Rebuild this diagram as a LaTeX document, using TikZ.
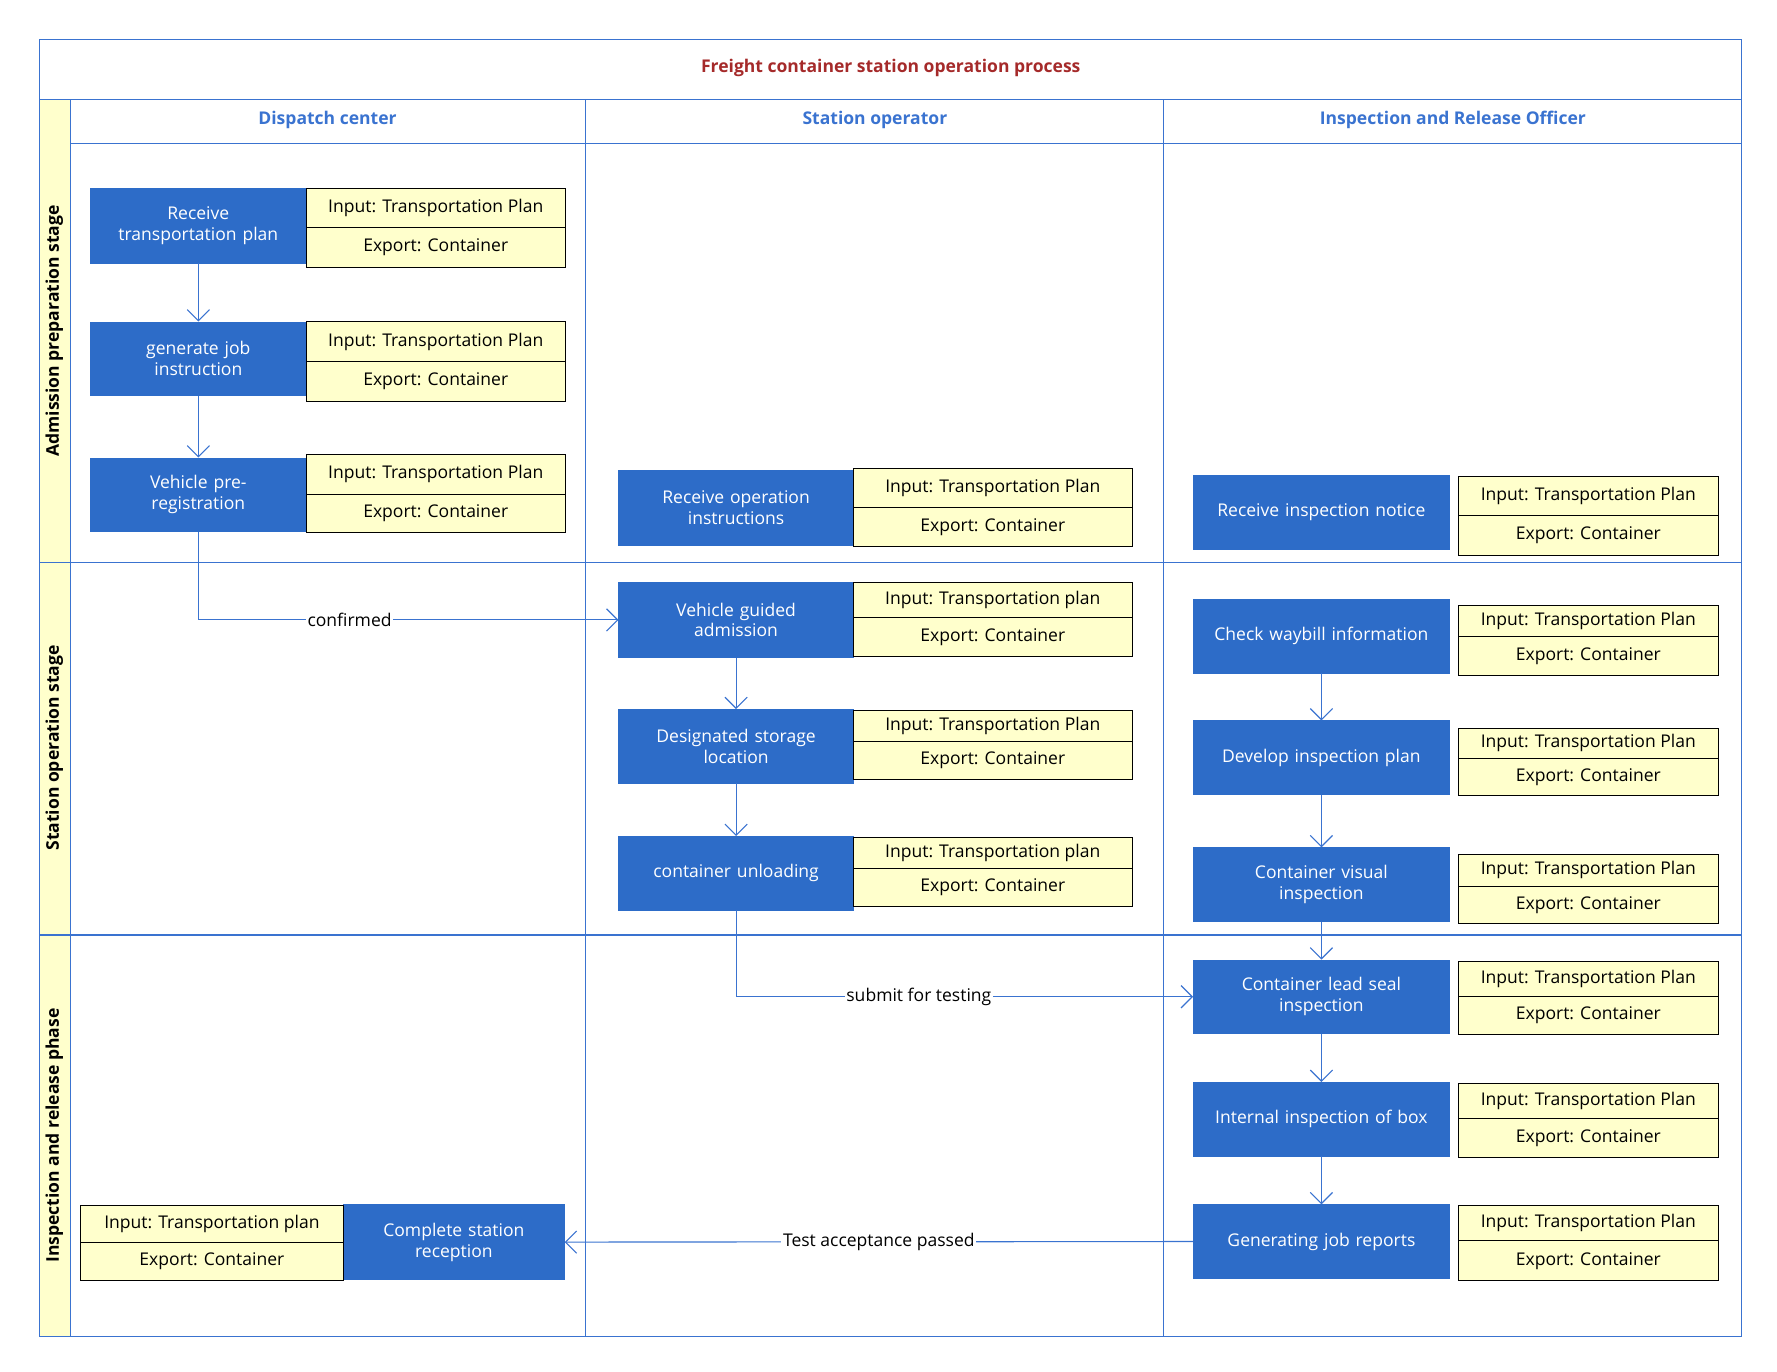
\documentclass[tikz,border=0pt]{standalone}
\usepackage{fontspec}
\setmainfont{Open Sans}
\usetikzlibrary{fit,arrows.meta}
\definecolor{stepblue}{HTML}{2D6CC8}
\definecolor{lineblue}{HTML}{3A73D0}
\definecolor{cellyellow}{HTML}{FFFFCC}
\definecolor{titlered}{HTML}{A52A2A}
\tikzset{
	procbox/.style={draw=stepblue, fill=stepblue, inner sep=0pt},
	proctext/.style={text=white, align=center, text width=5cm, font=\fontsize{11}{13}\selectfont},
	cell/.style={draw=black, fill=cellyellow, inner sep=0pt, line width=0.6pt},
	celltext/.style={font=\fontsize{11}{13}\selectfont},
	lane/.style={draw=lineblue, line width=0.7pt},
	flow/.style={draw=lineblue, line width=0.7pt, -{Straight Barb[length=7pt,width=14pt]}},
	flowlabel/.style={fill=white, inner sep=1pt, font=\fontsize{11}{13}\selectfont},
}
% blue process box: name, x1, y1, x2, y2, text
\newcommand\stepbox[6]{%
	\node[procbox, fit={(#2,#3) (#4,#5)}, label={[proctext]center:#6}] (#1) {};}
% input/export table: name, x1, y1, ymid, x2, y2, input text
\newcommand\iobox[7]{%
	\node[cell, fit={(#2,#3) (#5,#4)}, label={[celltext]center:#7}] (#1in) {};
	\node[cell, fit={(#2,#4) (#5,#6)}, label={[celltext]center:Export: Container}] (#1out) {};}
\begin{document}
\begin{tikzpicture}[x=0.025cm, y=-0.025cm]
	\useasboundingbox (0,0) rectangle (1568,1210);
	% swimlane frame
	\fill[cellyellow] (35.5,88.5) rectangle (61.5,1178.5);
	\draw[lane] (35,35) rectangle (1537,1179);
	\draw[lane] (35,88) -- (1537,88);
	\draw[lane] (62,127) -- (1537,127);
	\draw[lane] (62,88) -- (62,1179);
	\draw[lane] (517,88) -- (517,1179);
	\draw[lane] (1027,88) -- (1027,1179);
	\draw[lane] (35,496) -- (1537,496);
	\draw[lane] (35,825) -- (1537,825);
	\node[font=\bfseries\fontsize{11}{13}\selectfont, text=titlered] (title) at (786,60) {Freight container station operation process};
	\node[font=\bfseries\fontsize{11}{13}\selectfont, text=lineblue] (colA) at (289,106) {Dispatch center};
	\node[font=\bfseries\fontsize{11}{13}\selectfont, text=lineblue] (colB) at (772,106) {Station operator};
	\node[font=\bfseries\fontsize{11}{13}\selectfont, text=lineblue] (colC) at (1282,106) {Inspection and Release Officer};
	\node[font=\bfseries\fontsize{11}{13}\selectfont, rotate=90] (rowA) at (48,292) {Admission preparation stage};
	\node[font=\bfseries\fontsize{11}{13}\selectfont, rotate=90] (rowB) at (48,660) {Station operation stage};
	\node[font=\bfseries\fontsize{11}{13}\selectfont, rotate=90] (rowC) at (48,1002) {Inspection and release phase};

	% dispatch center
	\stepbox{recvplan}{80}{166}{270}{232}{Receive\\transportation plan}
	\iobox{recvplan}{270}{166}{201}{499}{236}{Input: Transportation Plan}
	\stepbox{genjob}{80}{284}{270}{349}{generate job\\instruction}
	\iobox{genjob}{270}{284}{319}{499}{354}{Input: Transportation Plan}
	\stepbox{prereg}{80}{404}{270}{469}{Vehicle pre-\\registration}
	\iobox{prereg}{270}{401}{436}{499}{470}{Input: Transportation Plan}
	\stepbox{complete}{303}{1063}{498}{1129}{Complete station\\reception}
	\iobox{complete}{71}{1064}{1096}{303}{1130}{Input: Transportation plan}

	% station operator
	\stepbox{recvinstr}{546}{415}{753}{481}{Receive operation\\instructions}
	\iobox{recvinstr}{753}{413}{448}{999}{482}{Input: Transportation Plan}
	\stepbox{guided}{546}{514}{753}{580}{Vehicle guided\\admission}
	\iobox{guided}{753}{514}{545}{999}{579}{Input: Transportation plan}
	\stepbox{storage}{546}{626}{753}{691}{Designated storage\\location}
	\iobox{storage}{753}{627}{654}{999}{688}{Input: Transportation Plan}
	\stepbox{unload}{546}{738}{753}{803}{container unloading}
	\iobox{unload}{753}{739}{766}{999}{800}{Input: Transportation plan}

	% inspection and release officer
	\stepbox{notice}{1053}{419}{1279}{485}{Receive inspection notice}
	\iobox{notice}{1287}{420}{455}{1516}{490}{Input: Transportation Plan}
	\stepbox{waybill}{1053}{529}{1279}{594}{Check waybill information}
	\iobox{waybill}{1287}{534}{562}{1516}{596}{Input: Transportation Plan}
	\stepbox{inspplan}{1053}{636}{1279}{701}{Develop inspection plan}
	\iobox{inspplan}{1287}{643}{669}{1516}{702}{Input: Transportation Plan}
	\stepbox{visual}{1053}{748}{1279}{813}{Container visual\\inspection}
	\iobox{visual}{1287}{754}{782}{1516}{815}{Input: Transportation Plan}
	\stepbox{seal}{1053}{847}{1279}{912}{Container lead seal\\inspection}
	\iobox{seal}{1287}{848}{879}{1516}{913}{Input: Transportation Plan}
	\stepbox{internal}{1053}{955}{1279}{1020}{Internal inspection of box}
	\iobox{internal}{1287}{956}{987}{1516}{1021}{Input: Transportation Plan}
	\stepbox{report}{1053}{1063}{1279}{1128}{Generating job reports}
	\iobox{report}{1287}{1064}{1095}{1516}{1130}{Input: Transportation Plan}

	% connectors
	\draw[flow] (recvplan.south) -- (genjob.north);
	\draw[flow] (genjob.south) -- (prereg.north);
	\draw[flow] (prereg.south) |- node[flowlabel, pos=0.68] {confirmed} (guided.west);
	\draw[flow] (guided.south) -- (storage.north);
	\draw[flow] (storage.south) -- (unload.north);
	\draw[flow] (unload.south) |- node[flowlabel, pos=0.7] {submit for testing} (seal.west);
	\draw[flow] (waybill.south) -- (inspplan.north);
	\draw[flow] (inspplan.south) -- (visual.north);
	\draw[flow] (visual.south) -- (seal.north);
	\draw[flow] (seal.south) -- (internal.north);
	\draw[flow] (internal.south) -- (report.north);
	\draw[flow] (report.west) -- node[flowlabel] {Test acceptance passed} (complete.east);
\end{tikzpicture}
\end{document}
